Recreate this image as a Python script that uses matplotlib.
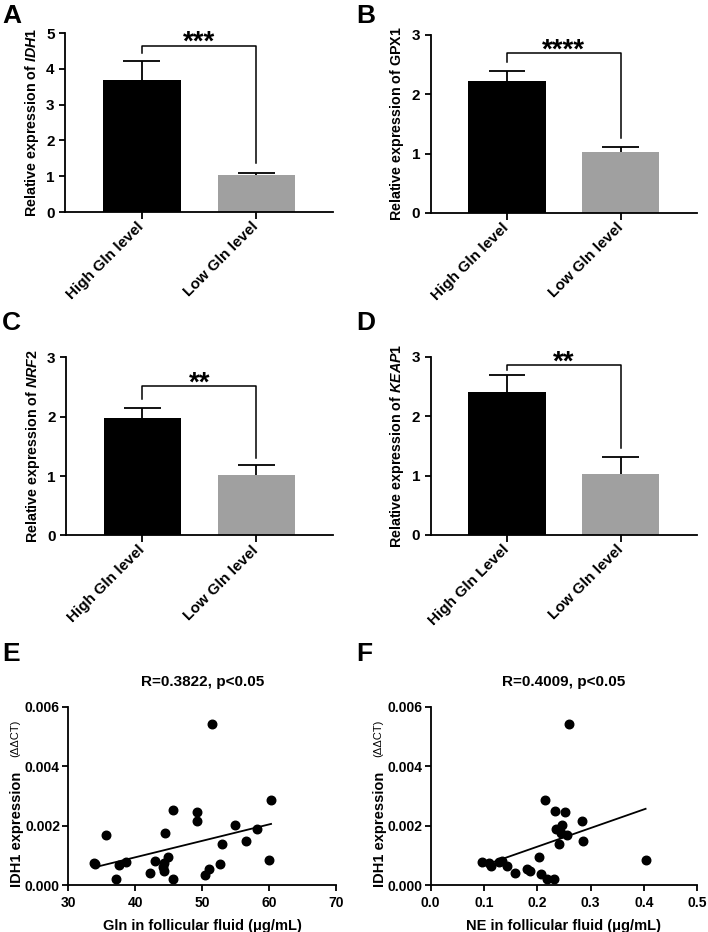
import numpy as np
import matplotlib
matplotlib.use("Agg")
import matplotlib.pyplot as plt

plt.rcParams['font.family'] = ['Liberation Sans', 'DejaVu Sans']
plt.rcParams['font.weight'] = 'bold'
plt.rcParams['axes.labelweight'] = 'bold'
plt.rcParams['mathtext.fontset'] = 'custom'
plt.rcParams['mathtext.rm'] = 'Liberation Sans:bold'
plt.rcParams['mathtext.it'] = 'Liberation Sans:italic:bold'
plt.rcParams['mathtext.bf'] = 'Liberation Sans:bold'

# bar panels (A-D)
groups = ["High Gln level", "Low Gln level"]
groups_d = ["High Gln Level", "Low Gln level"]
idh1_mean = [3.70, 1.03]
idh1_err = [0.53, 0.07]
gpx1_mean = [2.22, 1.02]
gpx1_err = [0.18, 0.10]
nrf2_mean = [1.97, 1.02]
nrf2_err = [0.18, 0.16]
keap1_mean = [2.41, 1.02]
keap1_err = [0.29, 0.29]
bar_colors = ["#000000", "#a0a0a0"]

# scatter panels (E, F)
gln_x = [33.9, 34.0, 35.7, 37.1, 37.6, 38.6, 42.2, 43.0, 44.4, 44.3, 44.2, 44.3, 44.9,
         45.7, 45.7, 49.3, 49.3, 50.5, 51.0, 51.4, 52.7, 52.9, 54.9, 56.6, 58.2, 60.0, 60.3]
gln_y = [0.00075, 0.00071, 0.00168, 0.00020, 0.00067, 0.00078, 0.00043, 0.00082, 0.00176,
         0.00075, 0.00062, 0.00048, 0.00094, 0.00252, 0.00020, 0.00247, 0.00217, 0.00036,
         0.00056, 0.00542, 0.00071, 0.00139, 0.00203, 0.00148, 0.00189, 0.00085, 0.00286]
ne_x = [0.096, 0.110, 0.114, 0.129, 0.133, 0.144, 0.159, 0.180, 0.186, 0.204, 0.206, 0.219,
        0.232, 0.215, 0.234, 0.251, 0.259, 0.283, 0.235, 0.246, 0.245, 0.255, 0.241, 0.286, 0.403]
ne_y = [0.00078, 0.00075, 0.00066, 0.00078, 0.00081, 0.00066, 0.00043, 0.00056, 0.00048,
        0.00094, 0.00037, 0.00020, 0.00020, 0.00286, 0.00251, 0.00246, 0.00542, 0.00216,
        0.00188, 0.00203, 0.00177, 0.00168, 0.00139, 0.00148, 0.00085]

W, H = 708, 932
fig = plt.figure(figsize=(W / 100, H / 100), dpi=100)


def style_axes(ax, size):
    for s in ['top', 'right']:
        ax.spines[s].set_visible(False)
    for s in ['left', 'bottom']:
        ax.spines[s].set_linewidth(1.3)
    ax.tick_params(width=1.3, length=4, direction='out', labelsize=size)


def letter(x_px, y_px, txt):
    fig.text(x_px / W, 1 - y_px / H, txt, fontsize=19, fontweight='bold',
             ha='left', va='top')


def bar_panel(rect, means, errs, labels, ylabel, ymax, yticks, bracket, stars):
    ax = fig.add_axes(rect)
    x = np.arange(len(means))
    ax.bar(x, means, width=0.68, color=bar_colors, zorder=2)
    # one-sided error bars (upper only)
    tops = np.array(means) + np.array(errs)
    ax.vlines(x, means, tops, color='black', lw=1.3, zorder=1)
    ax.hlines(tops, x - 0.16, x + 0.16, color='black', lw=1.3, zorder=1)
    ax.set_xlim(-0.67, 1.67)
    ax.set_ylim(0, ymax)
    ax.set_yticks(yticks)
    ax.set_xticks(x)
    ax.set_xticklabels(labels, rotation=45, ha='right', va='center',
                       rotation_mode='anchor', fontsize=9.6)
    ax.set_ylabel(ylabel, fontsize=10.3, labelpad=4)
    style_axes(ax, 11)
    ax.tick_params(axis='x', length=5, pad=4)
    # significance bracket
    left_y, top_y, right_y = bracket
    ax.plot([0, 0, 1, 1], [left_y, top_y, top_y, right_y], color='black', lw=1.1,
            clip_on=False)
    ax.annotate(stars, (0.5, top_y), xytext=(0, -3), textcoords='offset points',
                ha='center', va='baseline', fontsize=20, annotation_clip=False)
    return ax


bar_panel([0.0918, 0.7725, 0.379, 0.192], idh1_mean, idh1_err, groups,
          r"Relative expression of $\it{IDH1}$", 5, [0, 1, 2, 3, 4, 5],
          (4.44, 4.65, 1.36), "***")
bar_panel([0.6083, 0.7715, 0.376, 0.191], gpx1_mean, gpx1_err, groups,
          r"Relative expression of GPX$\it{1}$", 3, [0, 1, 2, 3],
          (2.54, 2.69, 1.26), "****")
bar_panel([0.0932, 0.4256, 0.377, 0.191], nrf2_mean, nrf2_err, groups,
          r"Relative expression of $\it{NRF2}$", 3, [0, 1, 2, 3],
          (2.29, 2.51, 1.30), "**")
bar_panel([0.6083, 0.4260, 0.376, 0.191], keap1_mean, keap1_err, groups_d,
          r"Relative expression of $\it{KEAP1}$", 3, [0, 1, 2, 3],
          (2.78, 2.86, 1.46), "**")


def scatter_panel(rect, xs, ys, xlim, xticks, xfmt, title, xlabel):
    ax = fig.add_axes(rect)
    ax.scatter(xs, ys, s=38, color='black', zorder=3, clip_on=False)
    k, b = np.polyfit(xs, ys, 1)
    xl = np.array([min(xs), max(xs)])
    ax.plot(xl, k * xl + b, color='black', lw=1.3)
    ax.set_xlim(xlim)
    ax.set_ylim(0, 0.006)
    ax.set_xticks(xticks)
    ax.set_xticklabels([xfmt % t for t in xticks])
    ax.set_yticks([0, 0.002, 0.004, 0.006])
    ax.set_yticklabels(["0.000", "0.002", "0.004", "0.006"])
    style_axes(ax, 10)
    ax.tick_params(axis='y', pad=2)
    ax.set_title(title, fontsize=11, fontweight='bold', pad=15)
    ax.set_xlabel(xlabel, fontsize=10.5, labelpad=7)
    ax.text(-0.19, -0.01, "IDH1 expression", rotation=90, ha='center', va='bottom',
            fontsize=10.5, fontweight='bold', transform=ax.transAxes)
    ax.text(-0.198, 0.72, "(\u0394\u0394CT)", rotation=90, ha='center', va='bottom',
            fontsize=8, fontweight='normal', transform=ax.transAxes)
    return ax


scatter_panel([0.0965, 0.0501, 0.378, 0.1916], gln_x, gln_y, (30, 70),
              [30, 40, 50, 60, 70], "%d", "R=0.3822, p<0.05",
              "Gln in follicular fluid (\u03bcg/mL)")
scatter_panel([0.6083, 0.0501, 0.3766, 0.1916], ne_x, ne_y, (0, 0.5),
              [0.0, 0.1, 0.2, 0.3, 0.4, 0.5], "%.1f", "R=0.4009, p<0.05",
              "NE in follicular fluid (\u03bcg/mL)")

letter(2, 4, "A")
letter(356, 4, "B")
letter(2, 311, "C")
letter(356, 311, "D")
letter(2, 642, "E")
letter(356, 642, "F")

fig.savefig("out.png", dpi=100)
